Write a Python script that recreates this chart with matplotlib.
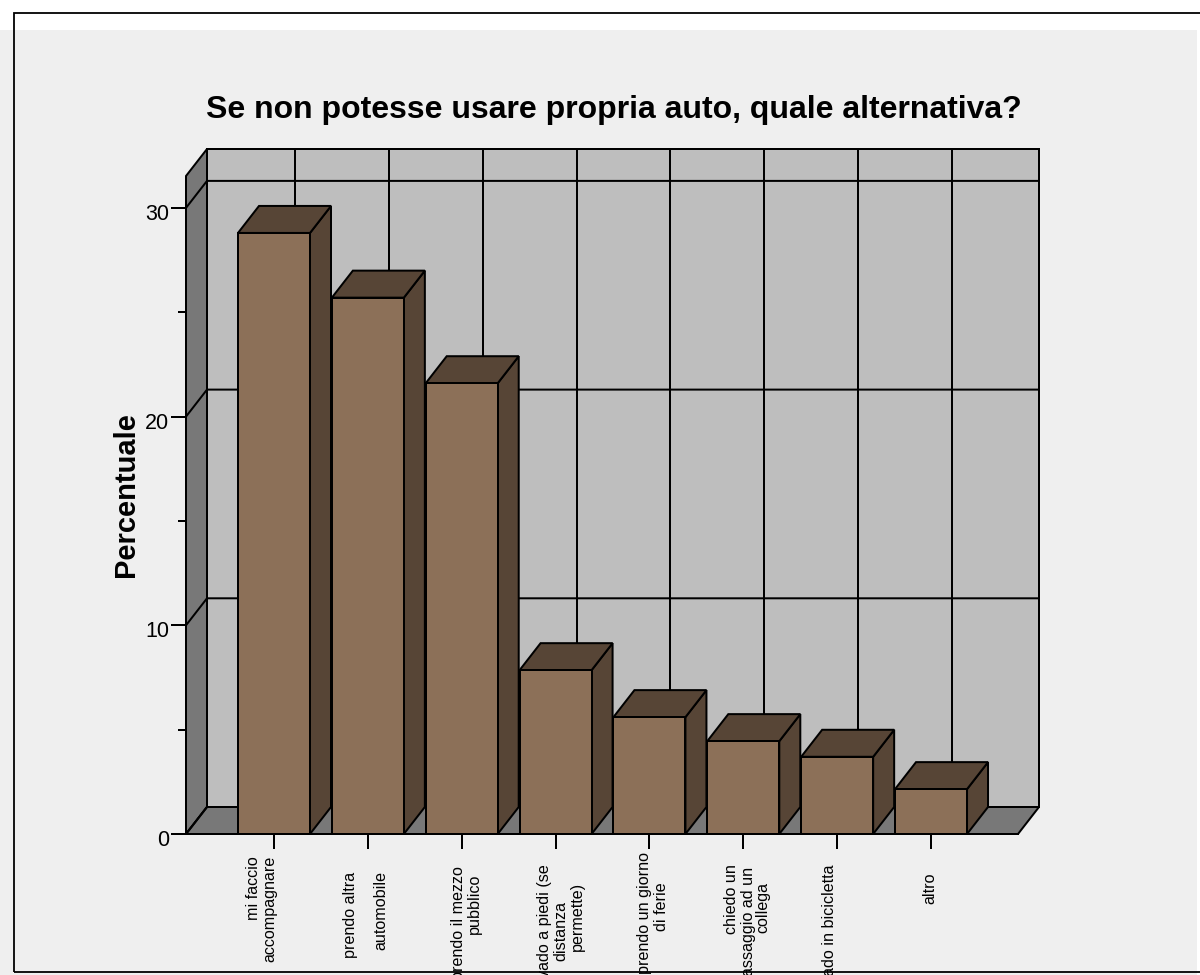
import matplotlib
matplotlib.use('Agg')
import matplotlib.pyplot as plt
from matplotlib.patches import Polygon, Rectangle
from matplotlib.transforms import ScaledTranslation

categories = ['mi faccio accompagnare', 'prendo altra automobile', 'prendo il mezzo pubblico',
              'vado a piedi (se distanza permette)', 'prendo un giorno di ferie',
              'chiedo un passaggio ad un collega', 'vado in bicicletta', 'altro']
percent = [28.8, 25.7, 21.6, 7.85, 5.6, 4.45, 3.7, 2.15]
major_ticks = [0, 10, 20, 30]
minor_ticks = [5, 15, 25]

# righe delle etichette: una lista per categoria
label_lines = [['mi faccio', 'accompagnare'], ['prendo altra', 'automobile'],
               ['prendo il mezzo', 'pubblico'], ['vado a piedi (se', 'distanza', 'permette)'],
               ['prendo un giorno', 'di ferie'], ['chiedo un', 'passaggio ad un', 'collega'],
               ['vado in bicicletta'], ['altro']]
label_x = [[254, 270], [351, 381], [458, 474], [544, 561, 577], [645, 662], [731, 748, 763], [830], [930]]
label_top = [[856, 856], [872, 871], [866, 874], [864, 901, 882], [852, 882], [864, 867, 882], [865], [873]]

W, H = 1200, 975
plt.rcParams['font.family'] = ['Liberation Sans', 'DejaVu Sans']
LW = 2.0 * 72 / 100

FRONT = '#8c7058'
DARK = '#574536'
WALL = '#bebebe'
FLOOR = '#787878'

fig = plt.figure(figsize=(W / 100, H / 100), dpi=100, facecolor='white')

# fondo e cornice in coordinate figura
fig.patches.append(Rectangle((0, 0), 1197 / W, 1 - 30 / H, transform=fig.transFigure, fc='#efefef', ec='none',
                             zorder=-2))
fig.patches.append(Rectangle((13.5 / W, 1 - 971.5 / H), (W + 5) / W, (971.5 - 12.5) / H, transform=fig.transFigure,
                             fc='none', ec='black', lw=LW * 0.9, clip_on=False, zorder=-1))

# assi: categorie su x, percentuale su y
left, right, y0, ytop = 186, 1039, 834, 149
step = 93.86
px_unit = 20.87
ax = fig.add_axes([left / W, 1 - y0 / H, (right - left) / W, (y0 - ytop) / H])
ax.patch.set_visible(False)
ax.set_xlim((left - 274) / step, (right - 274) / step)
ax.set_ylim(0, (y0 - ytop) / px_unit)
for s in ax.spines.values():
    s.set_visible(False)

dx = 21 / step
dz = 27 / px_unit
x_front0, x_front1 = ax.get_xlim()[0], ax.get_xlim()[1] - dx
ymax = ax.get_ylim()[1]
ys = ymax - dz


def poly(pts, color, z=1):
    ax.add_patch(Polygon(pts, closed=True, fc=color, ec='black', lw=LW, joinstyle='miter', zorder=z, clip_on=False))


# pareti
poly([(x_front0 + dx, dz), (x_front1 + dx, dz), (x_front1 + dx, ymax), (x_front0 + dx, ymax)], WALL)
poly([(x_front0, 0), (x_front0 + dx, dz), (x_front0 + dx, ymax), (x_front0, ys)], FLOOR)
poly([(x_front0, 0), (x_front1, 0), (x_front1 + dx, dz), (x_front0 + dx, dz)], FLOOR)

# griglia sulle pareti
for t in major_ticks:
    ax.plot([x_front0, x_front0 + dx, x_front1 + dx], [t, t + dz, t + dz], color='black', lw=LW, zorder=2,
            solid_capstyle='butt', clip_on=False)
for i in range(len(categories)):
    ax.plot([i + dx, i + dx], [dz, ymax], color='black', lw=LW, zorder=2, clip_on=False)

# barre
bw = 72 / step
for i, v in enumerate(percent):
    x0, x1 = i - bw / 2, i + bw / 2
    poly([(x1, 0), (x1 + dx, dz), (x1 + dx, v + dz), (x1, v)], DARK, 3)
    poly([(x0, v), (x1, v), (x1 + dx, v + dz), (x0 + dx, v + dz)], DARK, 3)
    poly([(x0, 0), (x1, 0), (x1, v), (x0, v)], FRONT, 4)

ax.plot([x_front0, x_front1], [0, 0], color='black', lw=LW, zorder=5, clip_on=False)

# tacche
ax.set_yticks(major_ticks)
ax.set_yticks(minor_ticks, minor=True)
ax.tick_params(axis='y', which='major', length=11, width=LW, labelsize=15.5, pad=1)
ax.tick_params(axis='y', which='minor', length=6, width=LW)
ax.set_xticks(range(len(categories)))
ax.set_xticklabels([])
ax.tick_params(axis='x', which='major', length=11, width=LW)

# i numeri stanno un po' sotto la tacca
shift = ScaledTranslation(0, -4 / 100, fig.dpi_scale_trans)
for lab in ax.get_yticklabels():
    lab.set_transform(lab.get_transform() + shift)

# etichette categorie, una riga alla volta
for lines, xs, tops in zip(label_lines, label_x, label_top):
    for line, xp, yp in zip(lines, xs, tops):
        fig.text(xp / W, 1 - yp / H, line, rotation=90, ha='center', va='top', fontsize=11.6, color='black')

fig.text(614 / W, 1 - 110 / H, 'Se non potesse usare propria auto, quale alternativa?', ha='center', va='center',
         fontsize=23, fontweight='bold')
fig.text(126 / W, 1 - 495 / H, 'Percentuale', rotation=90, ha='center', va='center', fontsize=21, fontweight='bold')

fig.savefig('out.png', dpi=100)
